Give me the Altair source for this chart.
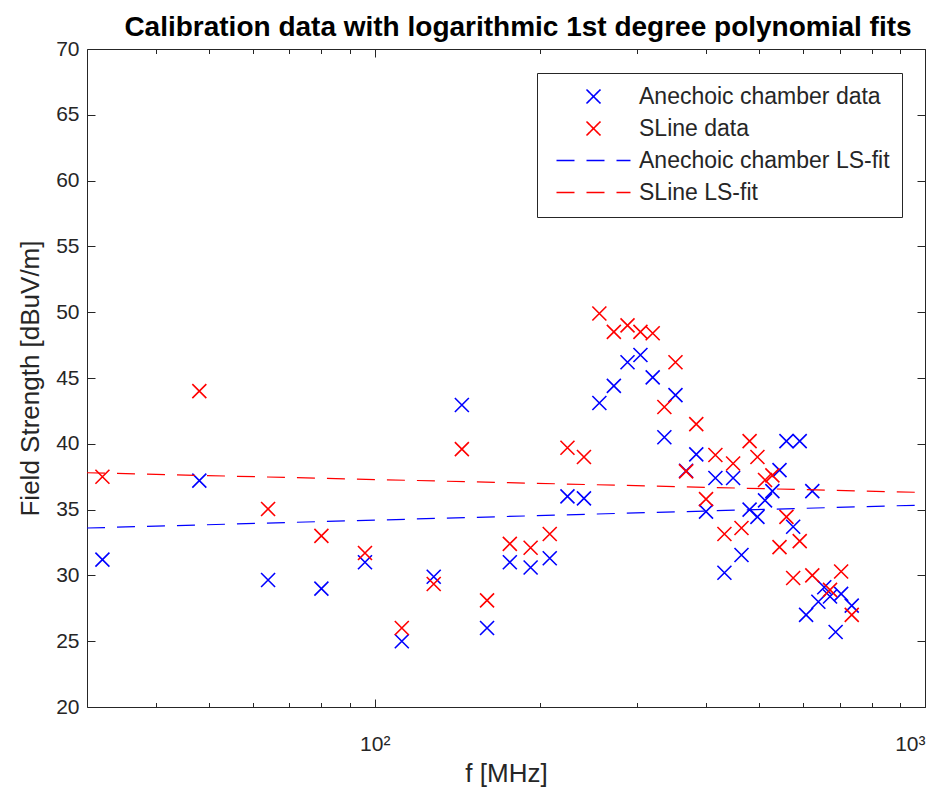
import altair as alt
import pandas as pd

# ---------------- data ----------------
freq_anechoic = [32, 48, 64, 80, 96, 112, 128, 144, 160, 176, 192, 208, 224, 240,
                 256, 272, 288, 304, 320, 336, 352, 368, 384, 400, 416, 432, 448,
                 464, 480, 496, 512, 528, 544, 560, 576, 592, 608, 624, 640, 656,
                 672, 688, 704, 736]
field_anechoic = [31.2, 37.2, 29.65, 29.0, 31.0, 25.0, 29.9, 42.95, 26.0, 31.0, 30.6,
                  31.3, 36.0, 35.85, 43.1, 44.4, 46.2, 46.75, 45.05, 40.5, 43.7, 37.95,
                  39.2, 34.85, 37.4, 30.2, 37.4, 31.55, 35.0, 34.45, 35.7, 36.4, 38.0,
                  40.2, 33.7, 40.2, 27.0, 36.4, 28.0, 29.1, 28.4, 25.7, 28.6, 27.7]

freq_sline = [32, 48, 64, 80, 96, 112, 128, 144, 160, 176, 192, 208, 224, 240,
              256, 272, 288, 304, 320, 336, 352, 368, 384, 400, 416, 432, 448,
              464, 480, 496, 512, 528, 544, 560, 576, 592, 624, 672, 704, 736]
field_sline = [37.5, 44.0, 35.05, 33.0, 31.7, 26.0, 29.35, 39.6, 28.1, 32.4, 32.1,
               33.15, 39.7, 39.0, 49.9, 48.5, 49.0, 48.5, 48.4, 42.8, 46.2, 37.9,
               41.5, 35.8, 39.15, 33.15, 38.5, 33.6, 40.2, 39.0, 37.25, 37.6, 32.15,
               34.45, 29.8, 32.6, 30.0, 28.9, 30.3, 27.0]

fit_freq = [30, 1000]
fit_anechoic = [33.6, 35.35]
fit_sline = [37.8, 36.3]

series_labels = ["Anechoic chamber data", "SLine data",
                 "Anechoic chamber LS-fit", "SLine LS-fit"]
series_colors = ["#0000ff", "#ff0000", "#0000ff", "#ff0000"]

x_major = [100, 1000]
x_minor = [40, 50, 60, 70, 80, 90, 200, 300, 400, 500, 600, 700, 800, 900]
y_ticks = [20, 25, 30, 35, 40, 45, 50, 55, 60, 65, 70]

title_text = "Calibration data with logarithmic 1st degree polynomial fits"
x_title = "f [MHz]"
y_title = "Field Strength [dBuV/m]"

# ---------------- tables ----------------
df_a = pd.DataFrame({"f": freq_anechoic, "v": field_anechoic, "s": series_labels[0]})
df_s = pd.DataFrame({"f": freq_sline, "v": field_sline, "s": series_labels[1]})
df_fa = pd.DataFrame({"f": fit_freq, "v": fit_anechoic, "s": series_labels[2]})
df_fs = pd.DataFrame({"f": fit_freq, "v": fit_sline, "s": series_labels[3]})

# ---------------- styles ----------------
FONT = "Liberation Sans"
TXT = "#262626"
W, H = 838, 658
MAJ, MIN_, YT = 8, 4.5, 8

X_PATH = "M-0.7,-0.7L0.7,0.7M-0.7,0.7L0.7,-0.7"
LINE_PATH = "M-3.7,0L3.7,0"

xscale = alt.Scale(type="log", domain=[30, 1000], nice=False)
yscale = alt.Scale(domain=[20, 70], nice=False, zero=False)

legend = alt.Legend(
    title=None, orient="none", legendX=450, legendY=24,
    strokeColor=TXT, fillColor="white", padding=12,
    labelFont=FONT, labelFontSize=23, labelColor=TXT, labelLimit=500,
    symbolSize=400, symbolStrokeWidth=1.6, symbolOffset=33, labelOffset=34,
    rowPadding=8, symbolFillColor="transparent")
color = alt.Color("s:N", scale=alt.Scale(domain=series_labels, range=series_colors),
                  legend=legend)
shape = alt.Shape("s:N", scale=alt.Scale(domain=series_labels,
                                         range=[X_PATH, X_PATH, LINE_PATH, LINE_PATH]),
                  legend=legend)
dash = alt.StrokeDash("s:N", scale=alt.Scale(domain=series_labels,
                                             range=[[1, 0], [1, 0], [18, 12], [18, 12]]),
                      legend=legend)

common_axis = dict(domain=False, grid=False, tickColor=TXT, tickWidth=1,
                   labelColor=TXT, labelFont=FONT, titleColor=TXT, titleFont=FONT,
                   titleFontWeight="normal")

ax_bottom_major = alt.Axis(orient="bottom", values=x_major, tickSize=MAJ, offset=-MAJ,
                           labelExpr="datum.value == 100 ? '10²' : (datum.value == 1000 ? '10³' : '')",
                           labelFontSize=21, labelPadding=26, title=x_title,
                           titleFontSize=26, titlePadding=6, **common_axis)
ax_bottom_minor = alt.Axis(orient="bottom", values=x_minor, tickSize=MIN_, offset=-MIN_,
                           labels=False, title=None, **common_axis)
ax_top_major = alt.Axis(orient="top", values=x_major, tickSize=MAJ, offset=-MAJ,
                        labels=False, title=None, **common_axis)
ax_top_minor = alt.Axis(orient="top", values=x_minor, tickSize=MIN_, offset=-MIN_,
                        labels=False, title=None, **common_axis)
ax_left = alt.Axis(orient="left", values=y_ticks, tickSize=YT, offset=-YT,
                   labelFontSize=21, labelPadding=8, title=y_title, titleFontSize=26,
                   titlePadding=12, **common_axis)
ax_right = alt.Axis(orient="right", values=y_ticks, tickSize=YT, offset=-YT,
                    labels=False, title=None, **common_axis)

pts_a = alt.Chart(df_a).mark_point(filled=False, size=400, strokeWidth=1.6, opacity=1).encode(
    x=alt.X("f:Q", scale=xscale, axis=ax_bottom_major),
    y=alt.Y("v:Q", scale=yscale, axis=ax_left),
    color=color, shape=shape)

pts_s = alt.Chart(df_s).mark_point(filled=False, size=400, strokeWidth=1.6, opacity=1).encode(
    x=alt.X("f:Q", scale=xscale, axis=ax_bottom_minor),
    y=alt.Y("v:Q", scale=yscale, axis=ax_right),
    color=color, shape=shape)

fit_a = alt.Chart(df_fa).mark_line(strokeWidth=1.2).encode(
    x=alt.X("f:Q", scale=xscale, axis=ax_top_major),
    y=alt.Y("v:Q", scale=yscale, axis=None),
    color=color, strokeDash=dash)

fit_s = alt.Chart(df_fs).mark_line(strokeWidth=1.2).encode(
    x=alt.X("f:Q", scale=xscale, axis=ax_top_minor),
    y=alt.Y("v:Q", scale=yscale, axis=None),
    color=color, strokeDash=dash)

chart = alt.layer(pts_a, pts_s, fit_a, fit_s).resolve_axis(
    x="independent", y="independent"
).properties(
    width=W, height=H,
    background="white",
    title=alt.TitleParams(title_text, font=FONT, fontSize=28, fontWeight="bold",
                          color="#000000", offset=-4, dx=12),
    autosize=alt.AutoSizeParams(type="none"),
    padding={"left": 87, "top": 49, "right": 23, "bottom": 91},
).configure_view(
    stroke=TXT, strokeWidth=1
)

chart.save("out.html", embed_options={"renderer": "svg", "actions": False})
